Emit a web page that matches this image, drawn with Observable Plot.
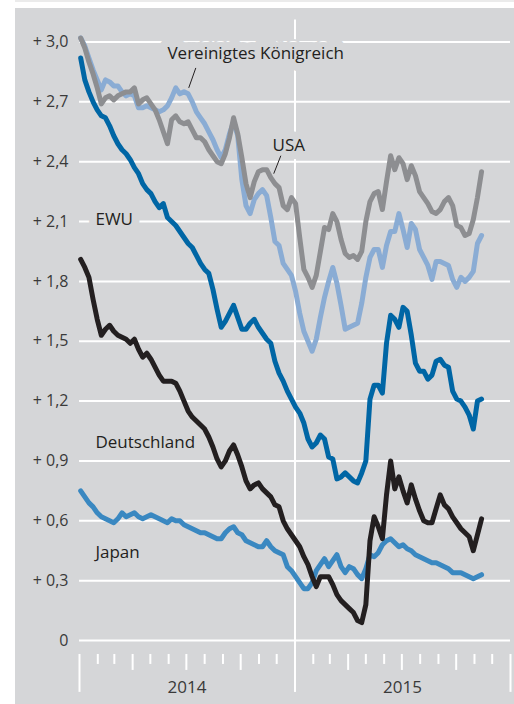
<!DOCTYPE html>
<html><head><meta charset="utf-8">
<script src="https://cdn.jsdelivr.net/npm/d3@7"></script>
<script src="https://cdn.jsdelivr.net/npm/@observablehq/plot@0.6"></script>
<style>
html,body{margin:0;padding:0;background:#fff;}
#wrap{position:relative;width:514px;height:704px;overflow:hidden;}
#strip{position:absolute;left:15px;top:0;width:499px;height:2px;background:#ebebeb;}
#panel{position:absolute;left:15px;top:8px;width:499px;height:696px;background:#d5d6d8;}
#chart{position:absolute;left:0;top:0;}
</style></head><body>
<div id="wrap"><div id="strip"></div><div id="panel"></div><div id="chart"></div></div>
<script>
// weekly observations, first on 2014-01-03
const firstWeek = "2014-01-03";
const weekCount = 98;

const seriesNames = ["Vereinigtes Königreich", "USA", "Japan", "Deutschland", "EWU"];
const seriesColors = ["#8aacd4", "#8d8e91", "#3a88c1", "#231f20", "#0066a5"];

const uk = [3.02,2.98,2.92,2.86,2.81,2.76,2.81,2.80,2.78,2.78,
 2.75,2.73,2.74,2.73,2.67,2.67,2.68,2.67,2.66,2.65,
 2.66,2.68,2.72,2.77,2.74,2.75,2.74,2.70,2.65,2.62,
 2.59,2.55,2.51,2.46,2.42,2.46,2.54,2.60,2.53,2.31,
 2.18,2.14,2.21,2.24,2.26,2.23,2.12,2.00,1.98,1.89,
 1.86,1.83,1.75,1.64,1.55,1.50,1.45,1.51,1.62,1.72,
 1.80,1.87,1.79,1.68,1.56,1.57,1.58,1.59,1.69,1.82,
 1.92,1.96,1.96,1.87,1.98,2.05,2.05,2.14,2.06,1.97,
 2.09,2.06,1.96,1.92,1.88,1.81,1.90,1.90,1.89,1.88,
 1.81,1.77,1.82,1.80,1.82,1.85,1.99,2.03];

const usa = [3.02,2.97,2.90,2.84,2.77,2.69,2.72,2.73,2.71,2.73,
 2.74,2.75,2.75,2.77,2.69,2.71,2.72,2.69,2.66,2.61,
 2.55,2.49,2.61,2.63,2.60,2.59,2.60,2.56,2.52,2.52,
 2.50,2.46,2.43,2.40,2.39,2.44,2.52,2.62,2.54,2.42,
 2.29,2.22,2.30,2.35,2.36,2.36,2.32,2.29,2.27,2.18,
 2.16,2.22,2.19,2.02,1.86,1.82,1.77,1.83,1.95,2.07,
 2.06,2.14,2.10,2.01,1.94,1.92,1.93,1.91,1.95,2.10,
 2.20,2.24,2.25,2.16,2.30,2.43,2.36,2.42,2.39,2.31,
 2.38,2.33,2.25,2.22,2.19,2.15,2.14,2.16,2.20,2.22,
 2.18,2.08,2.07,2.03,2.04,2.11,2.22,2.35];

const ewu = [2.92,2.81,2.75,2.70,2.66,2.63,2.62,2.58,2.53,2.49,
 2.46,2.44,2.41,2.37,2.34,2.29,2.26,2.24,2.20,2.17,
 2.19,2.12,2.10,2.08,2.05,2.02,1.99,1.97,1.93,1.89,
 1.86,1.84,1.76,1.66,1.57,1.60,1.64,1.68,1.62,1.56,
 1.56,1.59,1.61,1.57,1.54,1.51,1.49,1.40,1.34,1.30,
 1.25,1.21,1.17,1.14,1.09,1.01,0.97,0.99,1.03,1.01,
 0.92,0.91,0.81,0.82,0.84,0.82,0.80,0.79,0.84,0.90,
 1.21,1.28,1.28,1.24,1.49,1.63,1.61,1.57,1.67,1.65,
 1.53,1.39,1.35,1.35,1.31,1.33,1.40,1.41,1.38,1.37,
 1.25,1.21,1.20,1.17,1.13,1.06,1.20,1.21];

const deutschland = [1.91,1.87,1.82,1.71,1.61,1.53,1.56,1.58,1.55,1.53,
 1.52,1.51,1.49,1.51,1.46,1.42,1.44,1.41,1.37,1.33,
 1.30,1.30,1.30,1.29,1.25,1.20,1.15,1.12,1.10,1.08,
 1.06,1.02,0.97,0.91,0.87,0.90,0.95,0.98,0.93,0.87,
 0.80,0.76,0.78,0.79,0.76,0.74,0.72,0.68,0.67,0.60,
 0.56,0.53,0.50,0.47,0.42,0.38,0.32,0.27,0.32,0.32,
 0.32,0.28,0.23,0.20,0.18,0.16,0.14,0.10,0.09,0.18,
 0.50,0.62,0.57,0.51,0.73,0.90,0.76,0.82,0.75,0.69,
 0.78,0.71,0.65,0.60,0.59,0.59,0.66,0.73,0.68,0.66,
 0.62,0.59,0.56,0.54,0.52,0.45,0.53,0.61];

const japan = [0.75,0.72,0.69,0.67,0.64,0.62,0.61,0.60,0.59,0.61,
 0.64,0.62,0.63,0.64,0.62,0.61,0.62,0.63,0.62,0.61,
 0.60,0.59,0.61,0.60,0.60,0.58,0.57,0.56,0.55,0.54,
 0.54,0.53,0.52,0.51,0.51,0.54,0.56,0.57,0.54,0.53,
 0.50,0.49,0.48,0.47,0.47,0.50,0.47,0.45,0.44,0.43,
 0.37,0.35,0.32,0.29,0.26,0.26,0.29,0.35,0.38,0.41,
 0.37,0.40,0.43,0.37,0.34,0.37,0.36,0.33,0.31,0.36,
 0.43,0.42,0.44,0.48,0.50,0.51,0.49,0.47,0.48,0.46,
 0.45,0.43,0.42,0.41,0.40,0.39,0.39,0.38,0.37,0.36,
 0.34,0.34,0.34,0.33,0.32,0.31,0.32,0.33];

const yTicks = [0, 0.3, 0.6, 0.9, 1.2, 1.5, 1.8, 2.1, 2.4, 2.7, 3.0];
const yearLabels = ["2014", "2015"];

// series labels (text, anchor date, value) and leader lines
const labelNames = ["Vereinigtes Königreich", "USA", "EWU", "Deutschland", "Japan"];
const labelDates = ["2014-05-30", "2014-11-24", "2014-01-28", "2014-01-28", "2014-01-28"];
const labelValues = [2.94, 2.48, 2.11, 0.99, 0.44];
const leaders = [
  {d1: "2014-07-17", v1: 2.87, d2: "2014-07-05", v2: 2.77},
  {d1: "2014-12-08", v1: 2.43, d2: "2014-11-26", v2: 2.34}
];

const panel = "#d5d6d8";
const d0 = new Date(firstWeek);
const dates = d3.range(weekCount).map(i => d3.utcDay.offset(d0, 7 * i));
const seriesValues = {"Vereinigtes Königreich": uk, "USA": usa, "Japan": japan, "Deutschland": deutschland, "EWU": ewu};
const rows = seriesNames.flatMap(s => seriesValues[s].map((v, i) => ({series: s, date: dates[i], value: v})));

const xStart = new Date("2014-01-01"), xEnd = new Date("2016-01-01");
const months = d3.utcMonth.range(xStart, d3.utcDay.offset(xEnd, 1));
const yearStarts = months.filter(m => m.getUTCMonth() === 0);
const quarterMonths = months.filter(m => m.getUTCMonth() % 3 === 0 && m.getUTCMonth() !== 0);
const otherMonths = months.filter(m => m.getUTCMonth() % 3 !== 0);
const labels = labelNames.map((n, i) => ({name: n, date: new Date(labelDates[i]), value: labelValues[i]}));
const leaderRows = leaders.map(l => ({x1: new Date(l.d1), y1: l.v1, x2: new Date(l.d2), y2: l.v2}));
const years = yearLabels.map(y => ({label: y, date: new Date(y + "-07-02")}));
const fmt = d => d === 0 ? "0" : "+ " + d.toFixed(1).replace(".", ",");

const chart = Plot.plot({
  width: 514, height: 704,
  marginLeft: 79, marginRight: 4, marginTop: 41.5, marginBottom: 64,
  x: {type: "utc", domain: [xStart, xEnd], axis: null},
  y: {domain: [0, 3], axis: null},
  color: {domain: seriesNames, range: seriesColors},
  style: {background: "transparent", fontFamily: "'Open Sans', sans-serif", fontSize: "16px", overflow: "visible", color: "#3a3a3a"},
  marks: [
    Plot.ruleY(yTicks, {stroke: "white", strokeWidth: 2}),
    Plot.ruleX([new Date("2015-01-01")], {x: d => d, y1: 3.11, y2: -0.26, stroke: "white", strokeWidth: 2}),
    Plot.ruleX(otherMonths, {x: d => d, y1: -0.07, y2: -0.12, stroke: "white", strokeWidth: 2}),
    Plot.ruleX(quarterMonths, {x: d => d, y1: -0.07, y2: -0.15, stroke: "white", strokeWidth: 2}),
    Plot.ruleX(yearStarts, {x: d => d, y1: -0.07, y2: -0.26, stroke: "white", strokeWidth: 2}),
    Plot.text(labels, {x: "date", y: "value", text: "name", textAnchor: "start", fontSize: 17,
      fill: "#231f20", stroke: panel, strokeWidth: 16, strokeLinejoin: "round", paintOrder: "stroke"}),
    Plot.link(leaderRows, {x1: "x1", y1: "y1", x2: "x2", y2: "y2", stroke: "#231f20", strokeWidth: 1}),
    Plot.line(rows, {x: "date", y: "value", z: "series", stroke: "series", strokeWidth: 5, strokeLinejoin: "round", curve: "linear"}),
    Plot.axisY(yTicks, {tickSize: 0, tickPadding: 11, tickFormat: fmt, fontSize: 16, fill: "#3a3a3a"}),
    Plot.text(years, {x: "date", y: -0.234, text: "label", fontSize: 17, fill: "#3a3a3a"})
  ]
});
document.getElementById("chart").appendChild(chart);
</script>
</body></html>
